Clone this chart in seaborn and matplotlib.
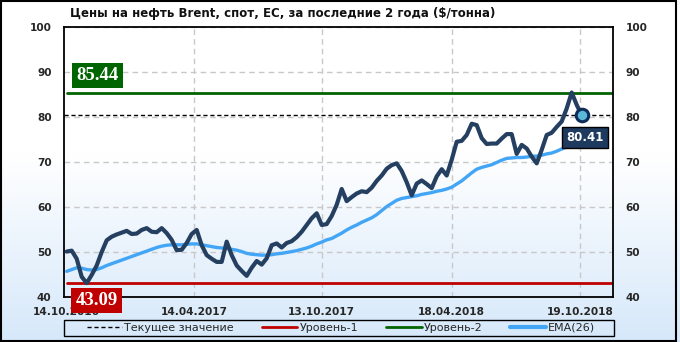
import numpy as np
import pandas as pd
import matplotlib
matplotlib.use("Agg")
import matplotlib.pyplot as plt
import seaborn as sns
from matplotlib.patches import Rectangle
from matplotlib.colors import LinearSegmentedColormap

# ---------------- data ----------------
title = "Цены на нефть Brent, спот, ЕС, за последние 2 года ($/тонна)"
tick_labels = ["14.10.2016", "14.04.2017", "13.10.2017", "18.04.2018", "19.10.2018"]
tick_pos = [0, 25.5, 51, 77, 102.7]

price = [50.1, 50.3, 48.5, 44.5, 43.09, 44.9, 47.0, 50.0, 52.6, 53.4,
         53.9, 54.3, 54.7, 54.0, 54.1, 54.9, 55.3, 54.5, 54.4, 55.3,
         54.2, 52.7, 50.4, 50.5, 52.0, 54.0, 54.9, 51.5, 49.3, 48.5,
         47.8, 47.8, 52.3, 49.3, 47.0, 45.8, 44.7, 46.5, 48.0, 47.2,
         48.6, 51.5, 51.9, 51.0, 52.0, 52.4, 53.3, 54.5, 56.0, 57.5,
         58.6, 56.0, 56.2, 58.0, 60.5, 64.0, 61.3, 62.2, 63.0, 63.5,
         63.3, 64.3, 65.8, 67.0, 68.5, 69.3, 69.7, 68.0, 65.5, 62.6,
         65.2, 65.9, 65.1, 64.2, 66.8, 68.4, 67.0, 70.5, 74.5, 74.7,
         76.0, 78.5, 78.2, 75.3, 74.0, 74.1, 74.1, 75.2, 76.2, 76.2,
         71.8, 73.8, 73.0, 71.2, 69.7, 72.7, 76.0, 76.5, 77.8, 79.0,
         81.9, 85.44, 82.7, 80.41]

ema = [45.7, 46.1, 46.5, 46.4, 46.1, 46.0, 46.1, 46.5, 47.0, 47.4,
       47.8, 48.2, 48.6, 49.0, 49.4, 49.8, 50.2, 50.6, 51.0, 51.3,
       51.5, 51.6, 51.6, 51.6, 51.7, 51.8, 51.8, 51.6, 51.4, 51.2,
       51.0, 50.9, 50.8, 50.6, 50.4, 50.1, 49.7, 49.5, 49.4, 49.3,
       49.3, 49.4, 49.6, 49.7, 49.9, 50.1, 50.3, 50.6, 50.9, 51.3,
       51.8, 52.2, 52.7, 53.0, 53.6, 54.2, 54.9, 55.5, 56.0, 56.6,
       57.1, 57.6, 58.3, 59.2, 60.1, 60.8, 61.5, 61.9, 62.1, 62.3,
       62.5, 62.8, 63.0, 63.2, 63.5, 63.7, 64.0, 64.4, 65.1, 65.8,
       66.7, 67.6, 68.4, 68.8, 69.1, 69.4, 69.9, 70.4, 70.8, 70.9,
       71.0, 71.0, 71.1, 71.3, 71.3, 71.5, 71.8, 72.0, 72.4, 72.9,
       73.3, 73.7, 74.1, 74.5]

current = 80.41
level1 = 43.09
level2 = 85.44
legend_labels = ["Текущее значение", "Уровень-1", "Уровень-2", "EMA(26)"]

# ---------------- colours ----------------
c_price = "#243F60"
c_ema = "#42A5F5"
c_l1 = "#C00000"
c_l2 = "#006400"

df = pd.DataFrame({"idx": np.arange(len(price)), "price": price, "ema": ema})

sns.set_style("white")
plt.rcParams["font.family"] = ["DejaVu Sans"]

fig = plt.figure(figsize=(6.8, 3.42), dpi=100)

# background gradient
bg = fig.add_axes([0, 0, 1, 1], zorder=-10)
grad = np.linspace(0, 1, 256).reshape(-1, 1)
cmap = LinearSegmentedColormap.from_list(
    "bg", [(0.0, "#D6E8FA"), (0.55, "#FFFFFF"), (1.0, "#FFFFFF")])
bg.imshow(grad, aspect="auto", cmap=cmap, extent=[0, 1, 0, 1], origin="lower")
bg.set_axis_off()

L, R, T, B = 64 / 680, 613 / 680, 1 - 27 / 342, 1 - 297 / 342
ax = fig.add_axes([L, B, R - L, T - B])
ax.set_facecolor("none")

xmin, xmax = -0.54, 109.26
ax.set_xlim(xmin, xmax)
ax.set_ylim(40, 100)

# level lines and current value line
h_cur, = ax.plot([xmin, xmax], [current, current], color="black", lw=1.0,
                 ls=(0, (3, 2)), zorder=2)
h_l1, = ax.plot([0, xmax - 0.3], [level1, level1], color=c_l1, lw=2.0, zorder=2)
h_l2, = ax.plot([0, xmax - 0.3], [level2, level2], color=c_l2, lw=2.0, zorder=2)

sns.lineplot(data=df, x="idx", y="ema", ax=ax, color=c_ema, lw=2.4, zorder=3)
sns.lineplot(data=df, x="idx", y="price", ax=ax, color=c_price, lw=3.0, zorder=4)
h_ema = plt.Line2D([], [], color=c_ema, lw=3)
ax.plot([df["idx"].iloc[-1]], [price[-1]], "o", ms=9, mfc="#5BB8D8",
        mec="#0F2D5A", mew=2.2, zorder=6)

# grid
ax.set_yticks([40, 50, 60, 70, 80, 90, 100])
ax.set_xticks(tick_pos)
ax.set_xticklabels(tick_labels)
ax.grid(True, color="#C8C8C8", ls=(0, (4, 3)), lw=1.0)
ax.xaxis.get_gridlines()[0].set_visible(False)
ax.set_axisbelow(True)
ax.set_xlabel("")
ax.set_ylabel("")

for s in ax.spines.values():
    s.set_visible(True)
    s.set_color("black")
    s.set_linewidth(1.3)

ax.tick_params(axis="both", length=0, labelsize=7.6)
ax.tick_params(axis="y", pad=9, labelleft=True, labelright=True)
ax.tick_params(axis="x", pad=7)
for lab in ax.get_xticklabels() + ax.get_yticklabels():
    lab.set_fontweight("bold")
for t in ax.yaxis.get_major_ticks():
    t.label2.set_fontweight("bold")
    t.label2.set_fontsize(7.6)

# title
fig.text(70 / 680, 1 - 13.5 / 342, title, fontsize=8.5, fontweight="bold",
         ha="left", va="center", color="#111111")

# value boxes
serif = ["Liberation Serif", "DejaVu Serif"]
ax.text(6.2, level2 + 3.8, f"{level2:.2f}", color="white", fontsize=13.5,
        fontweight="bold", family=serif, ha="center", va="center", zorder=8,
        bbox=dict(boxstyle="square,pad=0.22", fc=c_l2, ec="none"))
ax.text(6.0, level1 - 3.85, f"{level1:.2f}", color="white", fontsize=13.5,
        fontweight="bold", family=serif, ha="center", va="center", zorder=8,
        clip_on=False,
        bbox=dict(boxstyle="square,pad=0.22", fc=c_l1, ec="none"))
ax.text(103.6, current - 5.0, f"{current:.2f}", color="white", fontsize=8.5,
        fontweight="bold", ha="center", va="center", zorder=8,
        bbox=dict(boxstyle="square,pad=0.35", fc="#1F3A5F", ec="black", lw=1))

# legend (frame drawn separately to span the plot width)
leg = fig.legend([h_cur, h_l1, h_l2, h_ema], legend_labels, loc="center",
                 bbox_to_anchor=(341 / 680, 1 - 328 / 342), ncol=4,
                 frameon=False, fontsize=8, handlelength=3.2,
                 handletextpad=0.2, columnspacing=2.5, borderpad=0.15)
fig.patches.append(Rectangle((64 / 680, 1 - 336 / 342), 550 / 680, 16 / 342,
                             transform=fig.transFigure, fill=False,
                             ec="black", lw=1.0, zorder=20))

# outer border
fig.patches.append(Rectangle((0.0015, 0.003), 0.993, 0.993,
                             transform=fig.transFigure, fill=False,
                             ec="black", lw=1.5, zorder=20))

fig.savefig("out.png", dpi=100)
